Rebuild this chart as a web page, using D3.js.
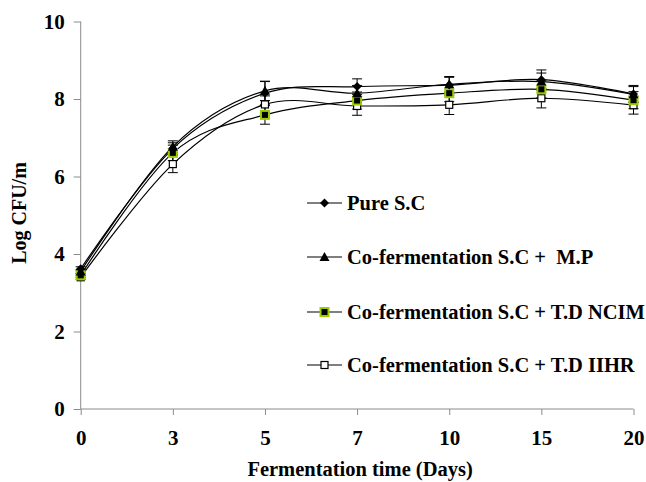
<!DOCTYPE html>
<html><head><meta charset="utf-8">
<script src="https://cdn.jsdelivr.net/npm/d3@7"></script>
<style>body{margin:0;background:#fff}svg{display:block}text{font-family:"Liberation Serif","Times New Roman",serif;font-weight:bold;fill:#000;white-space:pre}</style>
</head><body><svg id="c" width="646" height="482"></svg>
<script>
const days = ["0","3","5","7","10","15","20"];
const yTicks = [0,2,4,6,8,10];
const seriesNames = ["Pure S.C","Co-fermentation S.C +  M.P","Co-fermentation S.C + T.D NCIM","Co-fermentation S.C + T.D IIHR"];
const pureSC = [3.62,6.72,8.15,8.32,8.36,8.50,8.13];
const coMP   = [3.55,6.77,8.21,8.15,8.38,8.45,8.12];
const coNCIM = [3.45,6.61,7.59,7.96,8.15,8.25,7.97];
const coIIHR = [3.40,6.32,7.86,7.82,7.85,8.02,7.84];
const errPure = [0.05,0.15,0.30,0.20,0.20,0.25,0.22];
const errMP   = [0.05,0.15,0.25,0.20,0.20,0.22,0.20];
const errNCIM = [0.05,0.20,0.24,0.22,0.22,0.22,0.22];
const errIIHR = [0.05,0.22,0.22,0.24,0.25,0.25,0.23];

const series = [
 {name:seriesNames[0], v:pureSC, e:errPure, m:"diamond"},
 {name:seriesNames[1], v:coMP, e:errMP, m:"triangle"},
 {name:seriesNames[2], v:coNCIM, e:errNCIM, m:"sqfill"},
 {name:seriesNames[3], v:coIIHR, e:errIIHR, m:"sqopen"}
];

const svg = d3.select("#c");
const L=80.7, R=633.5, T=21.5, B=409;
const x = d3.scalePoint().domain(days).range([L,R]);
const y = d3.scaleLinear().domain([0,10]).range([B,T]);

// axes
const gy = svg.append("g").attr("transform",`translate(${L},0)`)
  .call(d3.axisLeft(y).tickValues(yTicks).tickSize(7).tickPadding(9).tickFormat(d3.format("d")));
const gx = svg.append("g").attr("transform",`translate(0,${B})`)
  .call(d3.axisBottom(x).tickSize(6).tickPadding(15));
[gx,gy].forEach(g=>{
  g.attr("font-size",null).attr("font-family",null);
  g.selectAll("line").attr("stroke","#8c8c8c").attr("stroke-width",1);
  g.selectAll("text").style("font-size","21px").style("font-family","Liberation Serif").style("font-weight","bold").attr("fill","#000");
  g.select(".domain").remove();
});
svg.append("line").attr("x1",L).attr("x2",L).attr("y1",y(10)).attr("y2",y(0)).attr("stroke","#8c8c8c");
svg.append("line").attr("x1",L).attr("x2",R).attr("y1",y(0)).attr("y2",y(0)).attr("stroke","#8c8c8c");

// lines
const line = d3.line().x((d,i)=>x(days[i])).y(d=>y(d)).curve(d3.curveCatmullRom.alpha(0));
series.forEach(s=>{
  svg.append("path").attr("d",line(s.v)).attr("fill","none").attr("stroke","#000").attr("stroke-width",1.2);
});

// error bars
series.forEach(s=>{
  const g = svg.append("g").attr("stroke","#000").attr("stroke-width",1);
  s.v.forEach((v,i)=>{
    const cx=x(days[i]), t=y(v+s.e[i]), b=y(v-s.e[i]);
    g.append("line").attr("x1",cx).attr("x2",cx).attr("y1",t).attr("y2",b);
    g.append("line").attr("x1",cx-5).attr("x2",cx+5).attr("y1",t).attr("y2",t);
    g.append("line").attr("x1",cx-5).attr("x2",cx+5).attr("y1",b).attr("y2",b);
  });
});

function marker(g,type,cx,cy){
  if(type==="diamond") g.append("path").attr("d",`M${cx},${cy-4.5}L${cx+4.5},${cy}L${cx},${cy+4.5}L${cx-4.5},${cy}Z`).attr("fill","#000");
  else if(type==="triangle") g.append("path").attr("d",`M${cx},${cy-5}L${cx+5},${cy+4}L${cx-5},${cy+4}Z`).attr("fill","#000");
  else if(type==="sqfill") g.append("rect").attr("x",cx-4).attr("y",cy-4).attr("width",8).attr("height",8).attr("fill","#000").attr("stroke","#99cc00").attr("stroke-width",2);
  else g.append("rect").attr("x",cx-3.5).attr("y",cy-3.5).attr("width",7).attr("height",7).attr("fill","#fff").attr("stroke","#000").attr("stroke-width",1.2);
}
[...series].reverse().forEach(s=>{
  const g=svg.append("g");
  s.v.forEach((v,i)=>marker(g,s.m,x(days[i]),y(v)));
});

// legend
const legY=[203,257,312,365];
series.forEach((s,i)=>{
  const g=svg.append("g");
  g.append("line").attr("x1",307).attr("x2",342).attr("y1",legY[i]).attr("y2",legY[i]).attr("stroke","#000").attr("stroke-width",1.2);
  marker(g,s.m,324.5,legY[i]);
  g.append("text").attr("x",347).attr("y",legY[i]+7).style("font-size","20.5px").text(s.name);
});

// titles
svg.append("text").attr("x",(L+R)/2+3).attr("y",476).attr("text-anchor","middle").style("font-size","20.5px").text("Fermentation time (Days)");
svg.append("text").attr("transform",`translate(26,213) rotate(-90)`).attr("text-anchor","middle").style("font-size","20px").text("Log CFU/m");
</script></body></html>
